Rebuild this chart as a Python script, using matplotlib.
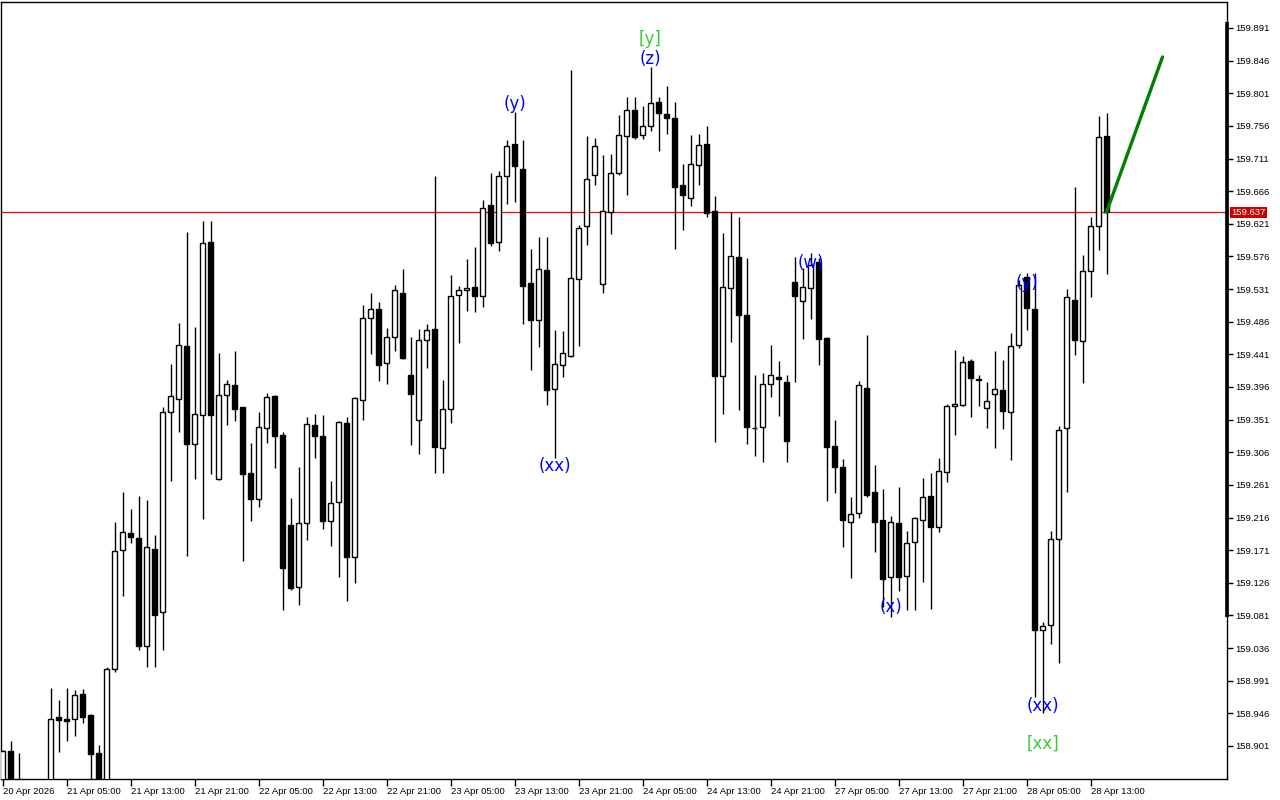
import matplotlib
matplotlib.use("Agg")
import matplotlib.pyplot as plt
import numpy as np

# hourly USDJPY-style bars, 20 Apr 21:00 .. 28 Apr 15:00
opens = [158.840, 158.894, 158.847, 158.833, 158.820, 158.810, 158.829, 158.941, 158.938, 158.938,
         158.973, 158.944, 158.891, 158.843, 159.007, 159.171, 159.195, 159.188, 159.039, 159.173,
         159.086, 159.362, 159.379, 159.452, 159.317, 159.357, 159.596, 159.269, 159.385, 159.399,
         159.368, 159.277, 159.242, 159.340, 159.384, 159.330, 159.206, 159.120, 159.209, 159.344,
         159.329, 159.211, 159.237, 159.346, 159.162, 159.378, 159.491, 159.504, 159.429, 159.465,
         159.526, 159.413, 159.351, 159.461, 159.476, 159.312, 159.366, 159.523, 159.530, 159.534,
         159.522, 159.647, 159.596, 159.687, 159.731, 159.697, 159.539, 159.488, 159.557, 159.393,
         159.426, 159.439, 159.545, 159.618, 159.688, 159.538, 159.637, 159.691, 159.742, 159.778,
         159.743, 159.756, 159.789, 159.772, 159.767, 159.675, 159.657, 159.702, 159.731, 159.639,
         159.411, 159.533, 159.575, 159.495, 159.340, 159.341, 159.400, 159.410, 159.403, 159.541,
         159.515, 159.533, 159.568, 159.464, 159.315, 159.286, 159.210, 159.222, 159.395, 159.251,
         159.213, 159.134, 159.209, 159.135, 159.182, 159.213, 159.246, 159.203, 159.279, 159.370,
         159.371, 159.432, 159.407, 159.367, 159.386, 159.392, 159.362, 159.454, 159.548, 159.504,
         159.061, 159.068, 159.186, 159.340, 159.516, 159.460, 159.556, 159.618, 159.742]

highs = [158.896, 158.908, 158.891, 158.840, 158.833, 158.840, 158.981, 158.964, 158.981, 158.978,
         158.980, 158.945, 158.902, 159.010, 159.210, 159.251, 159.228, 159.246, 159.240, 159.192,
         159.368, 159.428, 159.484, 159.610, 159.479, 159.625, 159.625, 159.443, 159.406, 159.446,
         159.369, 159.319, 159.362, 159.388, 159.385, 159.334, 159.243, 159.286, 159.355, 159.359,
         159.357, 159.266, 159.349, 159.355, 159.382, 159.509, 159.526, 159.513, 159.477, 159.537,
         159.559, 159.465, 159.476, 159.483, 159.687, 159.406, 159.551, 159.535, 159.573, 159.589,
         159.654, 159.691, 159.694, 159.737, 159.775, 159.737, 159.586, 159.603, 159.603, 159.475,
         159.473, 159.833, 159.619, 159.742, 159.739, 159.716, 159.717, 159.771, 159.796, 159.796,
         159.783, 159.837, 159.796, 159.811, 159.789, 159.703, 159.743, 159.745, 159.756, 159.659,
         159.608, 159.637, 159.630, 159.574, 159.413, 159.415, 159.454, 159.432, 159.413, 159.575,
         159.560, 159.581, 159.574, 159.465, 159.351, 159.297, 159.244, 159.404, 159.468, 159.289,
         159.255, 159.218, 159.258, 159.197, 159.217, 159.271, 159.277, 159.298, 159.373, 159.447,
         159.439, 159.435, 159.413, 159.403, 159.446, 159.433, 159.471, 159.544, 159.553, 159.553,
         159.072, 159.197, 159.342, 159.531, 159.672, 159.578, 159.630, 159.770, 159.774]

lows = [158.833, 158.840, 158.827, 158.806, 158.792, 158.799, 158.824, 158.893, 158.908, 158.915,
        158.933, 158.840, 158.833, 158.838, 159.003, 159.108, 159.181, 159.033, 159.010, 159.010,
        159.033, 159.266, 159.334, 159.163, 159.269, 159.214, 159.276, 159.268, 159.344, 159.349,
        159.156, 159.211, 159.231, 159.319, 159.284, 159.089, 159.116, 159.095, 159.185, 159.298,
        159.200, 159.177, 159.134, 159.101, 159.126, 159.351, 159.442, 159.404, 159.400, 159.446,
        159.435, 159.316, 159.304, 159.422, 159.277, 159.277, 159.346, 159.457, 159.501, 159.499,
        159.506, 159.590, 159.584, 159.648, 159.651, 159.483, 159.420, 159.451, 159.371, 159.298,
        159.410, 159.437, 159.452, 159.592, 159.675, 159.526, 159.607, 159.688, 159.661, 159.738,
        159.738, 159.749, 159.721, 159.745, 159.586, 159.612, 159.646, 159.675, 159.630, 159.320,
        159.359, 159.458, 159.364, 159.317, 159.301, 159.293, 159.382, 159.356, 159.293, 159.403,
        159.462, 159.490, 159.426, 159.239, 159.250, 159.175, 159.133, 159.215, 159.244, 159.169,
        159.093, 159.079, 159.115, 159.089, 159.089, 159.127, 159.090, 159.196, 159.265, 159.330,
        159.370, 159.355, 159.370, 159.340, 159.312, 159.338, 159.295, 159.450, 159.475, 158.969,
        158.947, 159.042, 159.015, 159.251, 159.440, 159.402, 159.520, 159.585, 159.552]

closes = [158.894, 158.847, 158.833, 158.820, 158.810, 158.829, 158.938, 158.937, 158.935, 158.971,
          158.941, 158.890, 158.843, 159.007, 159.170, 159.196, 159.189, 159.039, 159.175, 159.082,
          159.362, 159.384, 159.454, 159.317, 159.359, 159.595, 159.357, 159.385, 159.400, 159.366,
          159.276, 159.242, 159.341, 159.382, 159.329, 159.146, 159.119, 159.209, 159.345, 159.329,
          159.211, 159.236, 159.348, 159.162, 159.381, 159.491, 159.504, 159.426, 159.465, 159.530,
          159.436, 159.386, 159.461, 159.475, 159.313, 159.366, 159.522, 159.530, 159.533, 159.522,
          159.643, 159.595, 159.687, 159.728, 159.701, 159.535, 159.488, 159.559, 159.392, 159.428,
          159.443, 159.546, 159.615, 159.683, 159.728, 159.639, 159.691, 159.743, 159.778, 159.741,
          159.756, 159.788, 159.774, 159.767, 159.672, 159.661, 159.703, 159.730, 159.636, 159.411,
          159.534, 159.577, 159.495, 159.341, 159.339, 159.400, 159.413, 159.407, 159.322, 159.522,
          159.534, 159.564, 159.462, 159.313, 159.286, 159.213, 159.221, 159.399, 159.247, 159.210,
          159.131, 159.210, 159.134, 159.181, 159.215, 159.244, 159.203, 159.280, 159.370, 159.373,
          159.431, 159.408, 159.406, 159.377, 159.393, 159.363, 159.452, 159.537, 159.505, 159.061,
          159.066, 159.186, 159.337, 159.520, 159.461, 159.556, 159.618, 159.741, 159.637]

tick_bars = [0, 8, 16, 24, 32, 40, 48, 56, 64, 72, 80, 88, 96, 104, 112, 120, 128, 136]
tick_labels = ["20 Apr 2026", "21 Apr 05:00", "21 Apr 13:00", "21 Apr 21:00", "22 Apr 05:00",
               "22 Apr 13:00", "22 Apr 21:00", "23 Apr 05:00", "23 Apr 13:00", "23 Apr 21:00",
               "24 Apr 05:00", "24 Apr 13:00", "24 Apr 21:00", "27 Apr 05:00", "27 Apr 13:00",
               "27 Apr 21:00", "28 Apr 05:00", "28 Apr 13:00"]

price_levels = [159.891, 159.846, 159.801, 159.756, 159.711, 159.666, 159.621, 159.576,
                159.531, 159.486, 159.441, 159.396, 159.351, 159.306, 159.261, 159.216,
                159.171, 159.126, 159.081, 159.036, 158.991, 158.946, 158.901]
current_price = 159.637

wave_text = ["(y)", "(xx)", "[y]", "(z)", "(w)", "(x)", "(y)", "(xx)", "[xx]"]
wave_bar = [64, 69, 81, 81, 101, 111, 128, 130, 130]
wave_price = [159.786, 159.287, 159.876, 159.848, 159.567, 159.093, 159.539, 158.956, 158.904]

proj_bar = [138, 145]
proj_price = [159.637, 159.851]

o = np.array(opens); h = np.array(highs); l = np.array(lows); c = np.array(closes)
x = np.arange(len(o))
up = c >= o

fig = plt.figure(figsize=(12.8, 8), dpi=100)
ax = fig.add_axes([1/1280, 21/800, 1226/1280, 777/800])

ax.vlines(x, l, h, color="black", lw=1, zorder=2)
ax.bar(x[up], (c - o)[up], bottom=o[up], width=0.62, color="white",
       edgecolor="black", linewidth=1, zorder=3)
ax.bar(x[~up], (o - c)[~up], bottom=c[~up], width=0.62, color="black",
       edgecolor="black", linewidth=1, zorder=3)

ax.axhline(current_price, color="#ff0000", lw=0.9, zorder=1)
ax.plot(proj_bar, proj_price, color="#008000", lw=2.4, zorder=4, solid_capstyle="round")

for t, b, p in zip(wave_text, wave_bar, wave_price):
    col = "#32cd32" if t.startswith("[") else "#0000ff"
    ax.text(b, p, t, color=col, fontsize=12, ha="center", va="center", zorder=5)

ax.set_xlim(-0.1875, 153.06)
ax.set_ylim(158.8555, 159.9268)

ax.yaxis.tick_right()
ax.set_yticks(price_levels)
ax.set_yticklabels([f"{v:.3f}" for v in price_levels])
ax.tick_params(axis="y", direction="out", length=4, width=1, pad=2,
               labelsize=6.8, labelfontfamily="Liberation Sans")
ax.set_xticks(tick_bars)
ax.set_xticklabels(tick_labels)
ax.tick_params(axis="x", direction="out", length=5, width=1, pad=1,
               labelsize=6.8, labelfontfamily="Liberation Sans")
for lab in ax.get_xticklabels():
    lab.set_ha("left")

for s in ax.spines.values():
    s.set_color("black")
    s.set_linewidth(1)

# thick marker on the right border
ax.plot([1, 1], [159.899, 159.079], transform=ax.get_yaxis_transform(),
        color="black", lw=2.6, clip_on=False, solid_capstyle="butt", zorder=6)

# current price tag
ax.text(1.0035, current_price, f"{current_price:.3f}", transform=ax.get_yaxis_transform(),
        fontsize=6.8, family="Liberation Sans", color="white", ha="left", va="center",
        bbox=dict(boxstyle="square,pad=0.12", fc="#cc0000", ec="none"), zorder=7)

fig.savefig("out.png", dpi=100, facecolor="white")
